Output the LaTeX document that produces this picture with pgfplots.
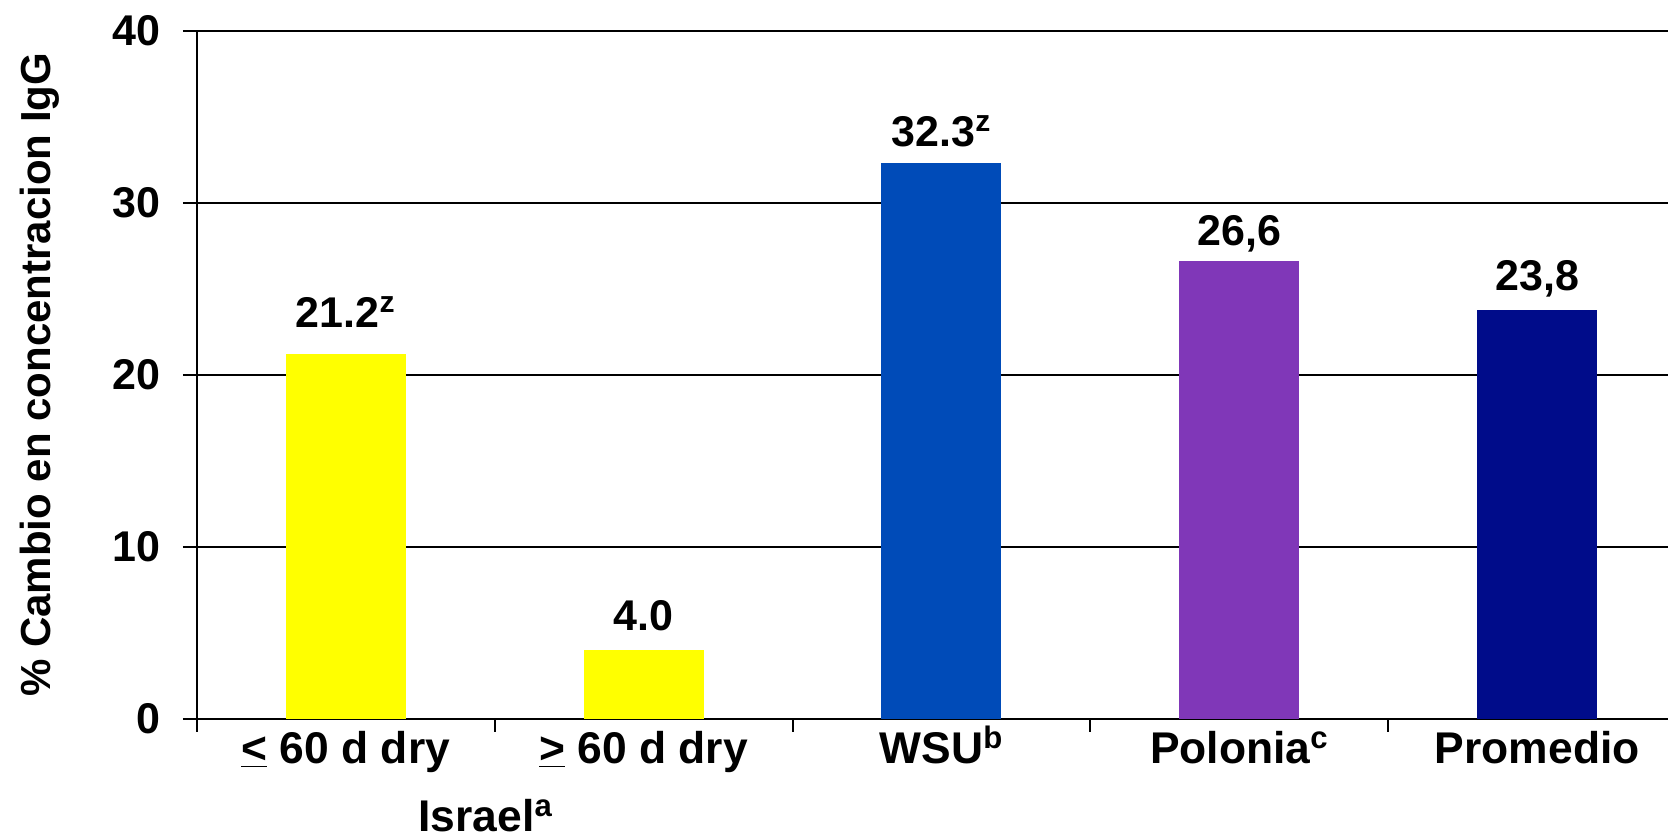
\documentclass[border=0pt]{standalone}
\usepackage{fontspec}
\setmainfont{Liberation Sans}
\usepackage{pgfplots}
\pgfplotsset{compat=1.18}
\definecolor{cyellow}{RGB}{255,255,0}
\definecolor{cblue}{RGB}{0,75,184}
\definecolor{cpurple}{RGB}{128,55,184}
\definecolor{cnavy}{RGB}{0,12,138}
\begin{document}
\begin{tikzpicture}
\begin{axis}[
  at={(0,0)}, anchor=south west,
  scale only axis, width=735.6pt, height=344pt,
  xmin=-0.5, xmax=4.439, ymin=0, ymax=40,
  clip=false,
  axis x line=bottom, axis y line=left,
  axis line style={-, line width=1.2pt, black},
  ytick={0,10,20,30,40},
  ymajorgrids, grid style={black, line width=0.9pt},
  xtick={0,1,2,3,4},
  xticklabels={{\underline{<} 60 d dry},{\underline{>} 60 d dry},{WSU\textsuperscript{b}},{Polonia\textsuperscript{c}},{Promedio}},
  minor xtick={-0.5,0.5,1.5,2.5,3.5},
  major x tick style={draw=none},
  minor x tick style={black, line width=1pt},
  major y tick style={black, line width=1pt},
  tick align=outside, major tick length=7pt, minor tick length=6.5pt,
  /pgf/number format/assume math mode=true,
  yticklabel style={font=\bfseries\fontsize{21.5}{24}\selectfont, inner sep=0pt, anchor=east, xshift=-11pt},
  xticklabel style={font=\bfseries\fontsize{22.2}{25}\selectfont, inner sep=0pt, anchor=base, yshift=-15.5pt},
  ylabel={\% Cambio en concentracion IgG},
  every axis y label/.style={at={(axis description cs:-0.1067,0.5)}, rotate=90, anchor=center, font=\bfseries\fontsize{21}{24}\selectfont},
  ybar, bar width=60pt,
  point meta=explicit symbolic,
  nodes near coords,
  every node near coord/.append style={font=\bfseries\fontsize{21.5}{24}\selectfont, anchor=base, inner sep=0pt, text=black},
]
\addplot[fill=cyellow, draw=none, bar shift=0pt, every node near coord/.append style={yshift=13.5pt}] coordinates {(0,21.2) [21.2\textsuperscript{z}]};
\addplot[fill=cyellow, draw=none, bar shift=0pt, every node near coord/.append style={yshift=10pt}] coordinates {(1,4.0) [4.0]};
\addplot[fill=cblue, draw=none, bar shift=0pt, every node near coord/.append style={yshift=8.5pt}] coordinates {(2,32.3) [32.3\textsuperscript{z}]};
\addplot[fill=cpurple, draw=none, bar shift=0pt, every node near coord/.append style={yshift=8pt}] coordinates {(3,26.6) [26,6]};
\addplot[fill=cnavy, draw=none, bar shift=0pt, every node near coord/.append style={yshift=9.5pt}] coordinates {(4,23.8) [23,8]};
\node[font=\bfseries\fontsize{22.2}{25}\selectfont, anchor=base, inner sep=0pt] at (axis cs:0.47,0) [yshift=-56.5pt] {Israel\textsuperscript{a}};
\end{axis}
\pgfresetboundingbox
\path (-98.4pt,-59.45pt) rectangle (735.6pt,359.45pt);
\end{tikzpicture}
\end{document}
